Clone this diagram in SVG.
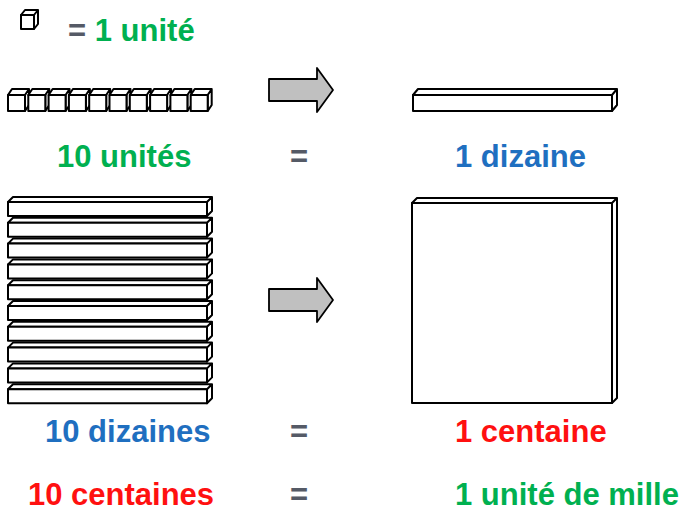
<svg xmlns="http://www.w3.org/2000/svg" width="683" height="512" viewBox="0 0 683 512">
<defs>
<style>
.t{font-family:"Liberation Sans",Arial,sans-serif;font-weight:bold;font-size:31px}
.g{fill:#00b050}.b{fill:#1f6fc0}.r{fill:#ff1010}.eq{fill:#555a66}
.blk{fill:#fff;stroke:#000;stroke-width:2;stroke-linejoin:round}
.arr{fill:#c0c0c0;stroke:#000;stroke-width:1.8;stroke-linejoin:round}
</style>
<g id="cube">
<path class="blk" d="M0,5 L4,0 L17,0 L13,5 Z M13,5 L17,0 L17,14 L13,19 Z"/>
<rect class="blk" x="0" y="5" width="13" height="14"/>
</g>
<g id="ucube">
<path class="blk" d="M0,6 L4,0 L21,0 L17,6 Z M17,6 L21,0 L21,16 L17,22 Z"/>
<rect class="blk" x="0" y="6" width="17" height="16"/>
</g>
<g id="rod">
<path class="blk" d="M0,5 L5,0 L204,0 L199,5 Z M199,5 L204,0 L204,14 L199,19 Z"/>
<rect class="blk" x="0" y="5" width="199" height="14"/>
</g>
<path id="arrow" class="arr" d="M0,11 L48,11 L48,0 L64,22 L48,44 L48,33 L0,33 Z"/>
</defs>

<g id="unit">
<use href="#cube" x="21" y="10"/>
<text class="t" x="68" y="41"><tspan class="eq">=</tspan><tspan class="g"> 1 unité</tspan></text>
</g>

<g id="ten-units">
<use href="#ucube" x="8" y="89"/>
<use href="#ucube" x="28.3" y="89"/>
<use href="#ucube" x="48.6" y="89"/>
<use href="#ucube" x="68.9" y="89"/>
<use href="#ucube" x="89.2" y="89"/>
<use href="#ucube" x="109.5" y="89"/>
<use href="#ucube" x="129.8" y="89"/>
<use href="#ucube" x="150.1" y="89"/>
<use href="#ucube" x="170.4" y="89"/>
<use href="#ucube" x="190.7" y="89"/>
<text class="t g" x="57" y="167">10 unités</text>
</g>

<g id="dizaine">
<path class="blk" d="M413,95 L418,89 L617,89 L612,95 Z M612,95 L617,89 L617,105 L612,111 Z"/>
<rect class="blk" x="413" y="95" width="199" height="16"/>
<text class="t b" x="455" y="167">1 dizaine</text>
</g>

<g id="ten-dizaines">
<use href="#rod" x="8" y="197"/>
<use href="#rod" x="8" y="217.8"/>
<use href="#rod" x="8" y="238.6"/>
<use href="#rod" x="8" y="259.4"/>
<use href="#rod" x="8" y="280.2"/>
<use href="#rod" x="8" y="301"/>
<use href="#rod" x="8" y="321.8"/>
<use href="#rod" x="8" y="342.6"/>
<use href="#rod" x="8" y="363.4"/>
<use href="#rod" x="8" y="384.2"/>
<text class="t b" x="45" y="442">10 dizaines</text>
</g>

<g id="centaine">
<path class="blk" d="M412,203 L417,198 L617,198 L612,203 Z M612,203 L617,198 L617,398 L612,403 Z"/>
<rect class="blk" x="412" y="203" width="200" height="200"/>
<text class="t r" x="455" y="442">1 centaine</text>
</g>

<g id="mille">
<text class="t r" x="28" y="505">10 centaines</text>
<text class="t g" x="455" y="505">1 unité de mille</text>
</g>

<g id="connectors">
<use href="#arrow" x="269" y="68"/>
<use href="#arrow" x="269" y="278"/>
<text class="t eq" x="299" y="167" text-anchor="middle">=</text>
<text class="t eq" x="299" y="442" text-anchor="middle">=</text>
<text class="t eq" x="299" y="505" text-anchor="middle">=</text>
</g>
</svg>
